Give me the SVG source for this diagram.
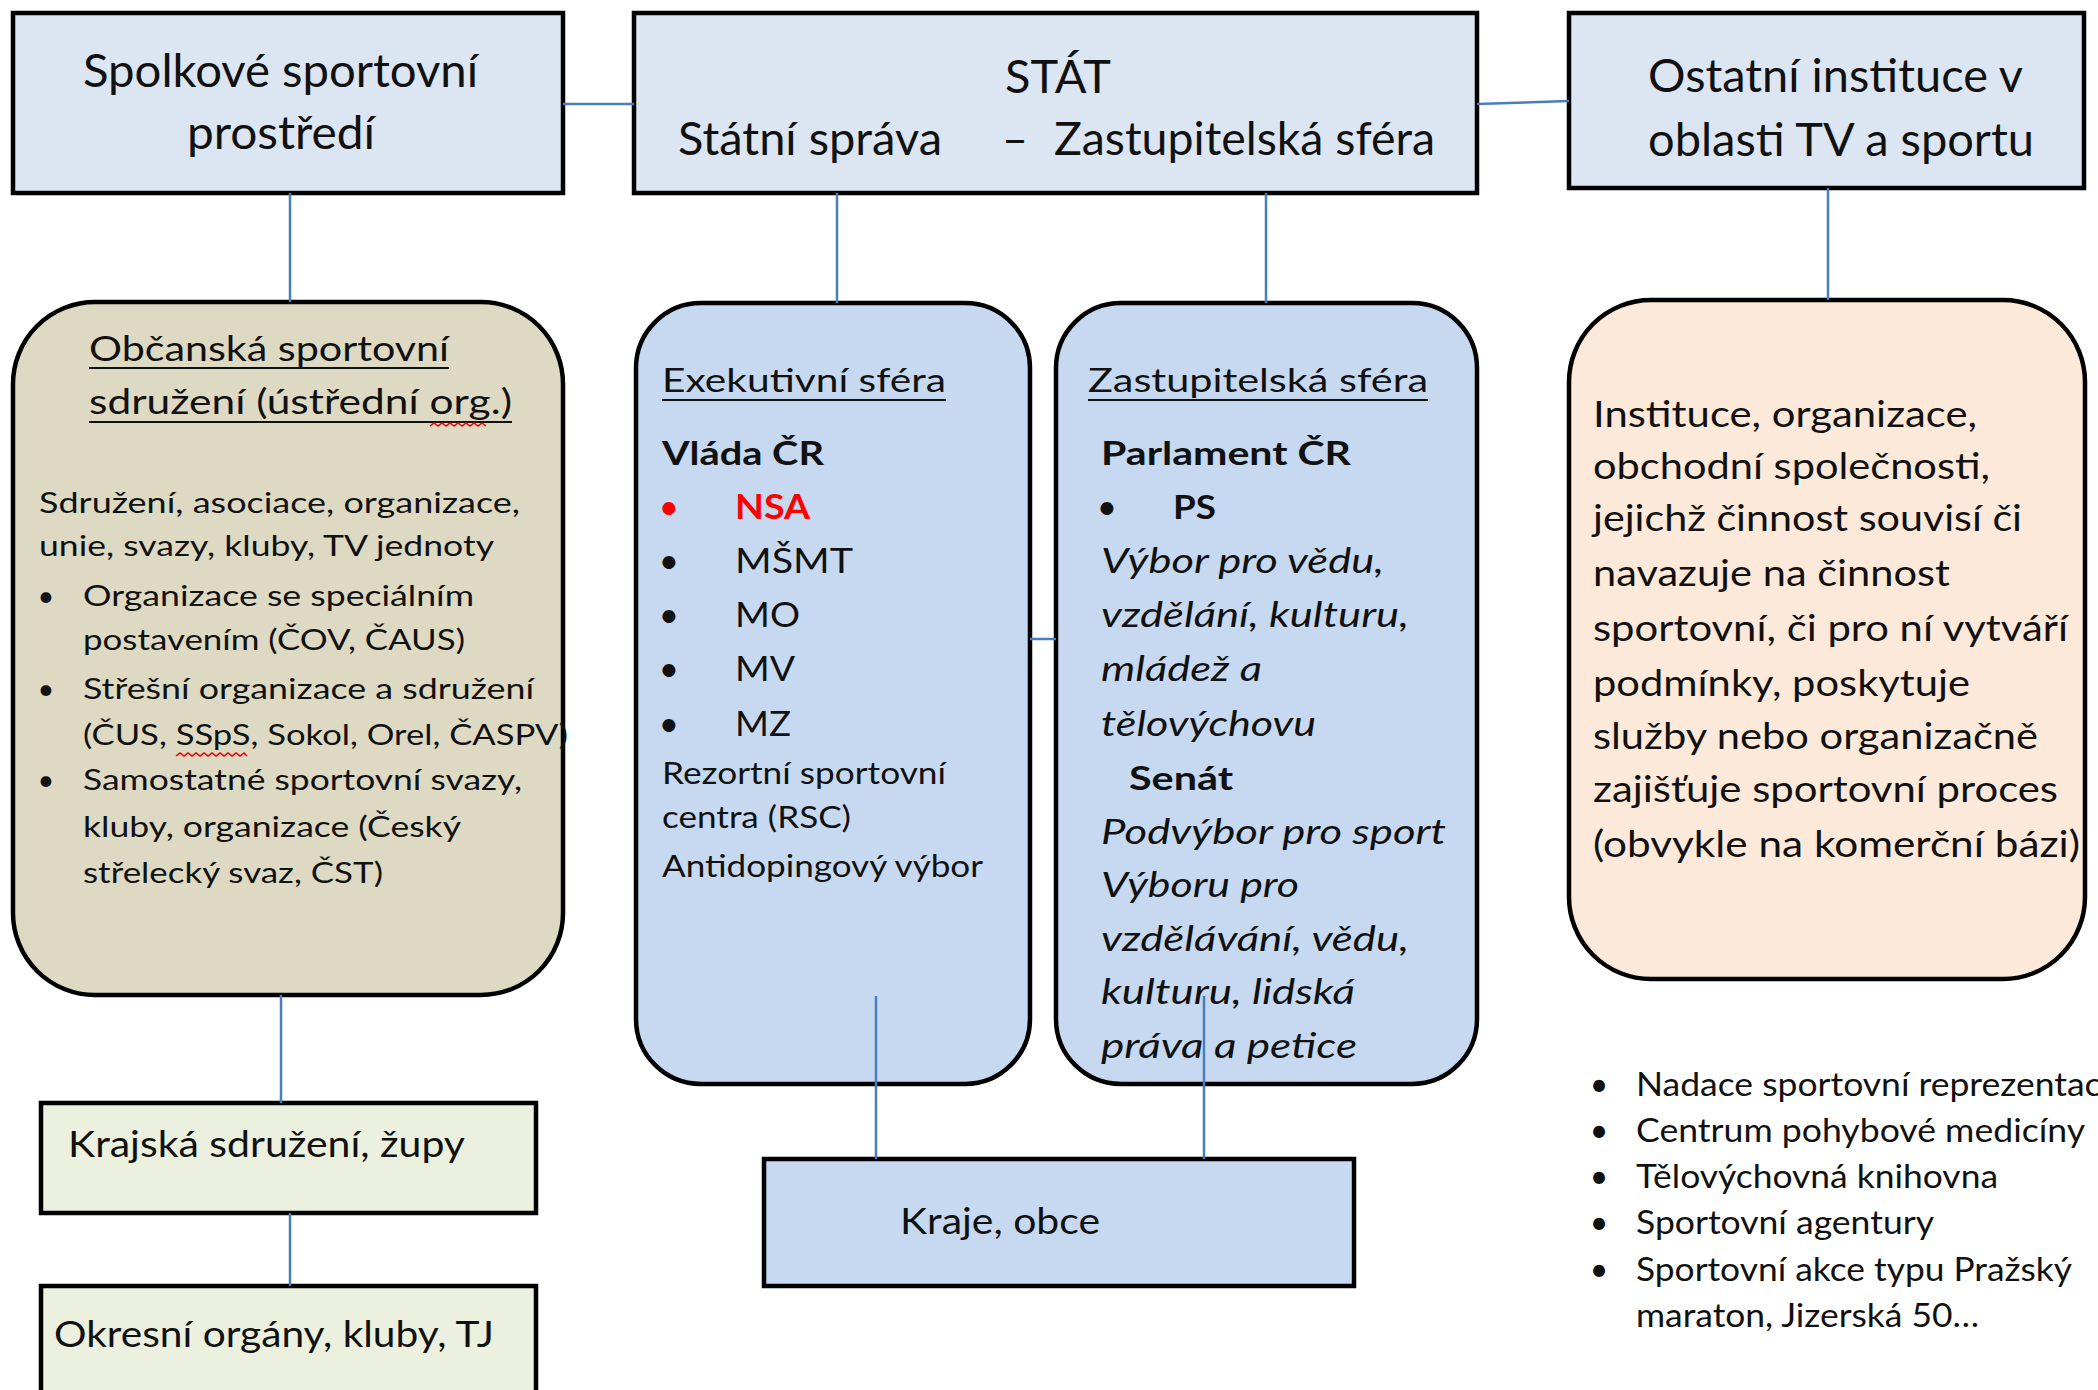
<svg xmlns="http://www.w3.org/2000/svg" width="2098" height="1390" viewBox="0 0 2098 1390">
<style>
text{font-family:Lato,"Open Sans","Liberation Sans",sans-serif;fill:#111;}
.box{stroke:#000;stroke-width:4.5;}
.hdr{fill:#DCE6F2;}
.blue{fill:#C6D9F1;}
.tan{fill:#DDD9C3;}
.peach{fill:#FDE9D9;}
.green{fill:#EBF1DE;}
.h{font-size:46px;}
.t{font-size:35px;}
.b{font-size:29px;}
.m{font-size:33px;}
.l{font-size:35px;}
.s{font-size:30px;}
.r{font-size:37px;}
.k{font-size:32px;}
.bold{font-weight:bold;}
.it{font-style:italic;}
.ul{stroke:#111;stroke-width:2;}
.sq{fill:none;stroke:#e00;stroke-width:1.5;}
.con line{stroke:#4A7EBB;stroke-width:2.5;}
</style>

<g id="spolkove">
<rect class="box hdr" x="13" y="13" width="550" height="180"/>
<text class="h" x="83" y="87" textLength="395" lengthAdjust="spacingAndGlyphs">Spolkové sportovní</text>
<text class="h" x="187" y="149" textLength="188" lengthAdjust="spacingAndGlyphs">prostředí</text>
</g>

<g id="stat">
<rect class="box hdr" x="634" y="13" width="843" height="180"/>
<text class="h" x="1005" y="93" textLength="106" lengthAdjust="spacingAndGlyphs">STÁT</text>
<text class="h" x="678" y="155" textLength="264" lengthAdjust="spacingAndGlyphs">Státní správa</text>
<text class="h" x="1002" y="155" textLength="26" lengthAdjust="spacingAndGlyphs">–</text>
<text class="h" x="1054" y="155" textLength="381" lengthAdjust="spacingAndGlyphs">Zastupitelská sféra</text>
</g>

<g id="ostatni">
<rect class="box hdr" x="1569" y="13" width="515" height="175"/>
<text class="h" x="1648" y="92" textLength="375" lengthAdjust="spacingAndGlyphs">Ostatní instituce v</text>
<text class="h" x="1648" y="156" textLength="386" lengthAdjust="spacingAndGlyphs">oblasti TV a sportu</text>
</g>

<g id="obcanska">
<rect class="box tan" x="13" y="302" width="550" height="693" rx="82" ry="82"/>
<text class="t" x="89" y="361" textLength="360" lengthAdjust="spacingAndGlyphs">Občanská sportovní</text>
<line class="ul" x1="89" y1="368" x2="449" y2="368"/>
<text class="t" x="89" y="414" textLength="423" lengthAdjust="spacingAndGlyphs">sdružení (ústřední org.)</text>
<line class="ul" x1="89" y1="422" x2="512" y2="422"/>
<path class="sq" d="M430 426 l4 -3 l4 3 l4 -3 l4 3 l4 -3 l4 3 l4 -3 l4 3 l4 -3 l4 3 l4 -3 l4 3 l4 -3 l4 3"/>
<text class="b" x="39" y="513" textLength="481" lengthAdjust="spacingAndGlyphs">Sdružení, asociace, organizace,</text>
<text class="b" x="39" y="556" textLength="455" lengthAdjust="spacingAndGlyphs">unie, svazy, kluby, TV jednoty</text>
<text class="b" x="46" y="606" text-anchor="middle">•</text>
<text class="b" x="83" y="606" textLength="391" lengthAdjust="spacingAndGlyphs">Organizace se speciálním</text>
<text class="b" x="83" y="650" textLength="382" lengthAdjust="spacingAndGlyphs">postavením (ČOV, ČAUS)</text>
<text class="b" x="46" y="699" text-anchor="middle">•</text>
<text class="b" x="83" y="699" textLength="451" lengthAdjust="spacingAndGlyphs">Střešní organizace a sdružení</text>
<text class="b" x="83" y="745" textLength="485" lengthAdjust="spacingAndGlyphs">(ČUS, SSpS, Sokol, Orel, ČASPV)</text>
<path class="sq" d="M176 756 l4 -3 l4 3 l4 -3 l4 3 l4 -3 l4 3 l4 -3 l4 3 l4 -3 l4 3 l4 -3 l4 3 l4 -3 l4 3 l4 -3 l4 3 l4 -3 l3 3"/>
<text class="b" x="46" y="790" text-anchor="middle">•</text>
<text class="b" x="83" y="790" textLength="439" lengthAdjust="spacingAndGlyphs">Samostatné sportovní svazy,</text>
<text class="b" x="83" y="837" textLength="378" lengthAdjust="spacingAndGlyphs">kluby, organizace (Český</text>
<text class="b" x="83" y="883" textLength="300" lengthAdjust="spacingAndGlyphs">střelecký svaz, ČST)</text>
</g>

<g id="exekutivni">
<rect class="box blue" x="636" y="303" width="394" height="781" rx="65" ry="65"/>
<text class="m" x="662" y="392" textLength="284" lengthAdjust="spacingAndGlyphs">Exekutivní sféra</text>
<line class="ul" x1="662" y1="400" x2="946" y2="400"/>
<text class="m bold" x="662" y="465" textLength="162" lengthAdjust="spacingAndGlyphs">Vláda ČR</text>
<text class="l" x="669" y="519" text-anchor="middle" style="fill:#f00">•</text>
<text class="l bold" x="735" y="519" textLength="75" lengthAdjust="spacingAndGlyphs" style="fill:#f00">NSA</text>
<text class="l" x="669" y="573" text-anchor="middle">•</text>
<text class="l" x="735" y="573" textLength="118" lengthAdjust="spacingAndGlyphs">MŠMT</text>
<text class="l" x="669" y="627" text-anchor="middle">•</text>
<text class="l" x="735" y="627" textLength="65" lengthAdjust="spacingAndGlyphs">MO</text>
<text class="l" x="669" y="681" text-anchor="middle">•</text>
<text class="l" x="735" y="681" textLength="60" lengthAdjust="spacingAndGlyphs">MV</text>
<text class="l" x="669" y="736" text-anchor="middle">•</text>
<text class="l" x="735" y="736" textLength="56" lengthAdjust="spacingAndGlyphs">MZ</text>
<text class="s" x="662" y="784" textLength="284" lengthAdjust="spacingAndGlyphs">Rezortní sportovní</text>
<text class="s" x="662" y="828" textLength="189" lengthAdjust="spacingAndGlyphs">centra (RSC)</text>
<text class="s" x="662" y="877" textLength="321" lengthAdjust="spacingAndGlyphs">Antidopingový výbor</text>
</g>

<g id="zastupitelska">
<rect class="box blue" x="1056" y="303" width="421" height="781" rx="65" ry="65"/>
<text class="m" x="1088" y="392" textLength="340" lengthAdjust="spacingAndGlyphs">Zastupitelská sféra</text>
<line class="ul" x1="1088" y1="400" x2="1428" y2="400"/>
<text class="m bold" x="1101" y="465" textLength="250" lengthAdjust="spacingAndGlyphs">Parlament ČR</text>
<text class="l" x="1107" y="519" text-anchor="middle">•</text>
<text class="m bold" x="1173" y="519" textLength="43" lengthAdjust="spacingAndGlyphs">PS</text>
<text class="l it" x="1101" y="573" textLength="283" lengthAdjust="spacingAndGlyphs">Výbor pro vědu,</text>
<text class="l it" x="1101" y="627" textLength="308" lengthAdjust="spacingAndGlyphs">vzdělání, kulturu,</text>
<text class="l it" x="1101" y="681" textLength="161" lengthAdjust="spacingAndGlyphs">mládež a</text>
<text class="l it" x="1101" y="736" textLength="215" lengthAdjust="spacingAndGlyphs">tělovýchovu</text>
<text class="m bold" x="1129" y="790" textLength="104" lengthAdjust="spacingAndGlyphs">Senát</text>
<text class="l it" x="1101" y="844" textLength="345" lengthAdjust="spacingAndGlyphs">Podvýbor pro sport</text>
<text class="l it" x="1101" y="897" textLength="198" lengthAdjust="spacingAndGlyphs">Výboru pro</text>
<text class="l it" x="1101" y="951" textLength="308" lengthAdjust="spacingAndGlyphs">vzdělávání, vědu,</text>
<text class="l it" x="1101" y="1004" textLength="254" lengthAdjust="spacingAndGlyphs">kulturu, lidská</text>
<text class="l it" x="1101" y="1058" textLength="256" lengthAdjust="spacingAndGlyphs">práva a petice</text>
</g>

<g id="instituce">
<rect class="box peach" x="1569" y="300" width="516" height="679" rx="82" ry="82"/>
<text class="r" x="1593" y="427" textLength="384" lengthAdjust="spacingAndGlyphs">Instituce, organizace,</text>
<text class="r" x="1593" y="479" textLength="397" lengthAdjust="spacingAndGlyphs">obchodní společnosti,</text>
<text class="r" x="1593" y="531" textLength="429" lengthAdjust="spacingAndGlyphs">jejichž činnost souvisí či</text>
<text class="r" x="1593" y="586" textLength="357" lengthAdjust="spacingAndGlyphs">navazuje na činnost</text>
<text class="r" x="1593" y="641" textLength="475" lengthAdjust="spacingAndGlyphs">sportovní, či pro ní vytváří</text>
<text class="r" x="1593" y="696" textLength="377" lengthAdjust="spacingAndGlyphs">podmínky, poskytuje</text>
<text class="r" x="1593" y="749" textLength="445" lengthAdjust="spacingAndGlyphs">služby nebo organizačně</text>
<text class="r" x="1593" y="802" textLength="465" lengthAdjust="spacingAndGlyphs">zajišťuje sportovní proces</text>
<text class="r" x="1593" y="857" textLength="487" lengthAdjust="spacingAndGlyphs">(obvykle na komerční bázi)</text>
</g>

<g id="krajska">
<rect class="box green" x="41" y="1103" width="495" height="110"/>
<text class="r" x="68" y="1157" textLength="397" lengthAdjust="spacingAndGlyphs">Krajská sdružení, župy</text>
</g>

<g id="okresni">
<rect class="box green" x="41" y="1286" width="495" height="130"/>
<text class="r" x="54" y="1347" textLength="440" lengthAdjust="spacingAndGlyphs">Okresní orgány, kluby, TJ</text>
</g>

<g id="kraje">
<rect class="box blue" x="764" y="1159" width="590" height="127"/>
<text class="r" x="900" y="1234" textLength="200" lengthAdjust="spacingAndGlyphs">Kraje, obce</text>
</g>

<g id="seznam">
<text class="k" x="1599" y="1096" text-anchor="middle">•</text>
<text class="k" x="1636" y="1096" textLength="484" lengthAdjust="spacingAndGlyphs">Nadace sportovní reprezentace</text>
<text class="k" x="1599" y="1142" text-anchor="middle">•</text>
<text class="k" x="1636" y="1142" textLength="449" lengthAdjust="spacingAndGlyphs">Centrum pohybové medicíny</text>
<text class="k" x="1599" y="1188" text-anchor="middle">•</text>
<text class="k" x="1636" y="1188" textLength="362" lengthAdjust="spacingAndGlyphs">Tělovýchovná knihovna</text>
<text class="k" x="1599" y="1234" text-anchor="middle">•</text>
<text class="k" x="1636" y="1234" textLength="298" lengthAdjust="spacingAndGlyphs">Sportovní agentury</text>
<text class="k" x="1599" y="1281" text-anchor="middle">•</text>
<text class="k" x="1636" y="1281" textLength="436" lengthAdjust="spacingAndGlyphs">Sportovní akce typu Pražský</text>
<text class="k" x="1636" y="1327" textLength="343" lengthAdjust="spacingAndGlyphs">maraton, Jizerská 50…</text>
</g>

<g id="connectors" class="con">
<line x1="563" y1="104" x2="634" y2="104"/>
<line x1="1477" y1="104" x2="1569" y2="101"/>
<line x1="290" y1="193" x2="290" y2="302"/>
<line x1="837" y1="193" x2="837" y2="303"/>
<line x1="1266" y1="193" x2="1266" y2="303"/>
<line x1="1828" y1="188" x2="1828" y2="300"/>
<line x1="1030" y1="639" x2="1056" y2="639"/>
<line x1="281" y1="995" x2="281" y2="1103"/>
<line x1="290" y1="1213" x2="290" y2="1286"/>
<line x1="876" y1="996" x2="876" y2="1159"/>
<line x1="1204" y1="996" x2="1204" y2="1159"/>
</g>
</svg>
